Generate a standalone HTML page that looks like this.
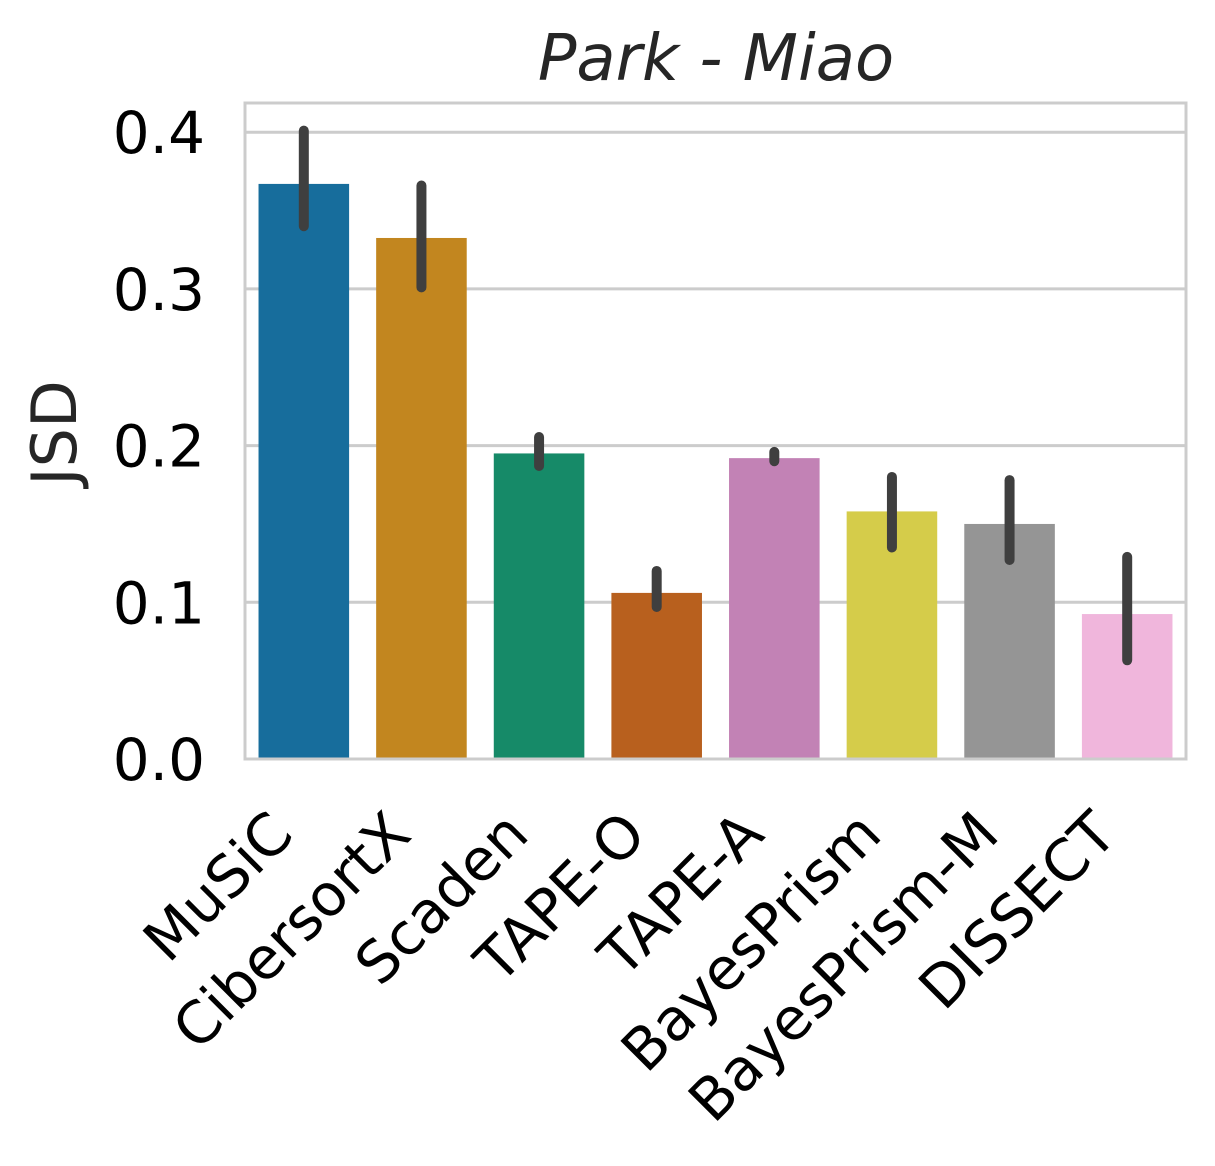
<!DOCTYPE html>
<html><head><meta charset="utf-8"><style>
body{margin:0;background:#fff;}
svg{display:block;font-family:"DejaVu Sans","Liberation Sans",sans-serif;}
</style></head><body>
<svg id="chart" width="1215" height="1166" xmlns="http://www.w3.org/2000/svg">
<rect x="0" y="0" width="1215" height="1166" fill="#fff"/>
<text x="716" y="80" font-size="64" font-style="italic" fill="#262626" text-anchor="middle">Park - Miao</text>
<text transform="translate(76,433) rotate(-90)" font-size="62" fill="#262626" text-anchor="middle">JSD</text>
<g id="grid"></g><g id="bars"></g><g id="errs"></g><g id="yticks"></g><g id="xticks"></g>
<rect x="245" y="103" width="941" height="656" fill="none" stroke="#cccccc" stroke-width="3"/>
</svg>
<script>
const categories=["MuSiC","CibersortX","Scaden","TAPE-O","TAPE-A","BayesPrism","BayesPrism-M","DISSECT"];
const values=[0.367,0.3325,0.195,0.106,0.192,0.158,0.150,0.0925];
const errLow=[0.340,0.301,0.187,0.097,0.190,0.135,0.127,0.063];
const errHigh=[0.401,0.366,0.2055,0.120,0.196,0.180,0.178,0.129];
const colors=["#176d9c","#c2861f","#168a68","#b8601e","#c282b5","#d5cc4a","#959595","#f0b6dc"];
const yTicks=[0,0.1,0.2,0.3,0.4];
const yTickLabels=["0.0","0.1","0.2","0.3","0.4"];
const NS="http://www.w3.org/2000/svg";
const L=245,R=1186,T=103,B=759;
const y=v=>B-v*1567;
const slot=(R-L)/categories.length;
const xc=i=>L+slot*(i+0.5);
function mk(tag,attrs,parent){const e=document.createElementNS(NS,tag);for(const k in attrs)e.setAttribute(k,attrs[k]);document.getElementById(parent).appendChild(e);return e;}
yTicks.forEach((t,i)=>{
  if(t>0){const g=mk('line',{x1:L,x2:R,y1:y(t),y2:y(t),stroke:'#cccccc','stroke-width':3},'grid');
  
  }
  const tx=mk('text',{x:205,y:y(t)+21,'font-size':58,'text-anchor':'end',fill:'#000'},'yticks');
  tx.textContent=yTickLabels[i];
  
  
});
categories.forEach((c,i)=>{
  const bw=slot*0.77;
  const b=mk('rect',{x:xc(i)-bw/2,y:y(values[i]),width:bw,height:B-y(values[i]),fill:colors[i]},'bars');
  
  
  const e=mk('line',{x1:xc(i),x2:xc(i),y1:y(errLow[i]),y2:y(errHigh[i]),stroke:'#3f3f3f','stroke-width':10,'stroke-linecap':'round'},'errs');
  
  
  const t=mk('text',{transform:`translate(${xc(i)-8},${B+78}) rotate(-45)`,'font-size':58,'text-anchor':'end',fill:'#000'},'xticks');
  t.textContent=c;
  
  
});
</script>
</body></html>
